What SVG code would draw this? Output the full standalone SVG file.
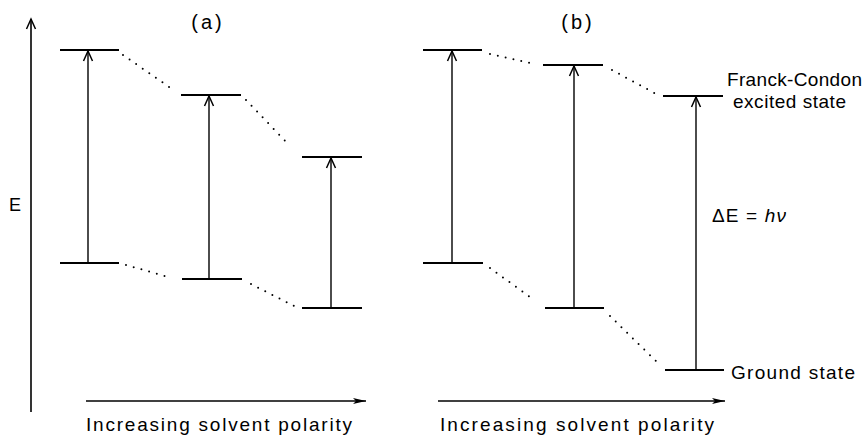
<svg xmlns="http://www.w3.org/2000/svg" width="864" height="437" viewBox="0 0 864 437">
<defs>
<marker id="open" viewBox="-12 -6 14 12" markerWidth="14" markerHeight="12" refX="0" refY="0" orient="auto" markerUnits="userSpaceOnUse">
<path d="M-10,-4.5 L0,0 L-10,4.5" fill="none" stroke="#000" stroke-width="1.5"/>
</marker>
<marker id="solid" viewBox="-14 -4 16 8" markerWidth="16" markerHeight="8" refX="0" refY="0" orient="auto" markerUnits="userSpaceOnUse">
<path d="M-13,-3 L0,0 L-13,3 L-10,0 Z" fill="#000"/>
</marker>
<style>
.lvl{stroke:#000;stroke-width:2;fill:none}
.tr{stroke:#000;stroke-width:1.4;fill:none}
.dot{stroke:#000;stroke-width:2;stroke-linecap:round;stroke-dasharray:0 8;fill:none}
.ax{stroke:#000;stroke-width:1.6;fill:none}
text{font-family:"Liberation Sans","DejaVu Sans",sans-serif;fill:#000}
</style>
</defs>
<g id="axis">
<line class="ax" x1="31" y1="412" x2="31" y2="19" marker-end="url(#open)"/>
<text x="15" y="211" font-size="18" text-anchor="middle">E</text>
</g>
<g id="title-a"><text x="208" y="29" font-size="20" text-anchor="middle" letter-spacing="3">(a)</text></g>
<g id="title-b"><text x="578" y="29" font-size="20" text-anchor="middle" letter-spacing="3">(b)</text></g>
<g id="a1"><line class="lvl" x1="60" y1="50" x2="119" y2="50"/><line class="lvl" x1="60" y1="263" x2="119" y2="263"/></g>
<g id="a2"><line class="lvl" x1="181" y1="95" x2="241" y2="95"/><line class="lvl" x1="182" y1="279" x2="242" y2="279"/></g>
<g id="a3"><line class="lvl" x1="302" y1="157" x2="362" y2="157"/><line class="lvl" x1="302" y1="308" x2="362" y2="308"/></g>
<g id="b1"><line class="lvl" x1="423" y1="50" x2="482" y2="50"/><line class="lvl" x1="423" y1="263" x2="483" y2="263"/></g>
<g id="b2"><line class="lvl" x1="543" y1="65" x2="603" y2="65"/><line class="lvl" x1="545" y1="308" x2="604" y2="308"/></g>
<g id="b3"><line class="lvl" x1="663" y1="96" x2="723" y2="96"/><line class="lvl" x1="665" y1="370" x2="724" y2="370" stroke-width="1.4"/>
<text x="727" y="86" font-size="19" textLength="135" lengthAdjust="spacing">Franck-Condon</text>
<text x="733" y="108" font-size="19" textLength="113" lengthAdjust="spacing">excited state</text>
<text x="731" y="379" font-size="19" textLength="124" lengthAdjust="spacing">Ground state</text>
<text x="712" y="222" font-size="19" textLength="74" lengthAdjust="spacing">ΔE = <tspan font-style="italic">hν</tspan></text>
</g>
<g id="connectors">
<line class="tr" x1="88" y1="263" x2="88" y2="51" marker-end="url(#open)"/>
<line class="tr" x1="209" y1="279" x2="209" y2="96" marker-end="url(#open)"/>
<line class="tr" x1="331" y1="308" x2="331" y2="158" marker-end="url(#open)"/>
<line class="tr" x1="452" y1="263" x2="452" y2="51" marker-end="url(#open)"/>
<line class="tr" x1="574" y1="308" x2="574" y2="66" marker-end="url(#open)"/>
<line class="tr" x1="696" y1="370" x2="696" y2="97" marker-end="url(#open)"/>
<line class="dot" x1="123" y1="55" x2="172" y2="89"/>
<line class="dot" x1="246" y1="100" x2="290" y2="146"/>
<line class="dot" x1="126" y1="265" x2="172" y2="278"/>
<line class="dot" x1="251" y1="284" x2="296" y2="307"/>
<line class="dot" x1="490" y1="54" x2="535" y2="64"/>
<line class="dot" x1="612" y1="70" x2="658" y2="95"/>
<line class="dot" x1="490" y1="268" x2="530" y2="297"/>
<line class="dot" x1="610" y1="316" x2="661" y2="366"/>
<line class="ax" x1="86" y1="401" x2="366" y2="401" marker-end="url(#solid)"/>
<line class="ax" x1="438" y1="401" x2="725" y2="401" marker-end="url(#solid)"/>
</g>
<g id="xlabels">
<text x="86" y="431" font-size="19" textLength="266" lengthAdjust="spacing">Increasing solvent polarity</text>
<text x="440" y="431" font-size="19" textLength="274" lengthAdjust="spacing">Increasing solvent polarity</text>
</g>
</svg>
